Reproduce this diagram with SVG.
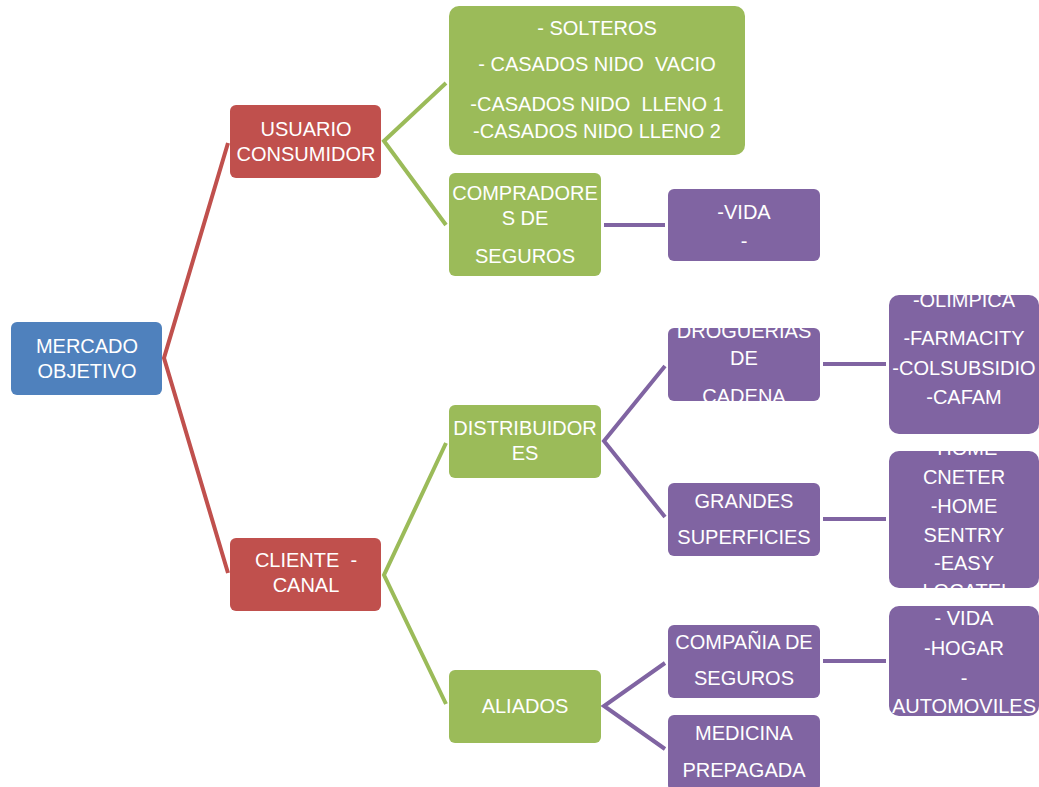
<svg xmlns="http://www.w3.org/2000/svg" width="1039" height="787" viewBox="0 0 1039 787">
<style>
.b{fill:#4F81BD}.r{fill:#C0504D}.g{fill:#9BBB59}.p{fill:#8064A2}
text{font-family:"Liberation Sans",Arial,sans-serif;font-size:20px;fill:#FFFFFF;text-anchor:middle;white-space:pre}
.cr{stroke:#C0504D;stroke-width:4;fill:none}
.cg{stroke:#9BBB59;stroke-width:4;fill:none}
.cp{stroke:#8064A2;stroke-width:4;fill:none}
</style>
<rect width="1039" height="787" fill="#FFFFFF"/>
<g id="connectors">
<polyline class="cr" points="228,143 164,358 228,573"/>
<polyline class="cg" points="446,83 384,141 446,225"/>
<polyline class="cg" points="446,443 384,575 446,704"/>
<line class="cp" x1="604" y1="225" x2="665" y2="225"/>
<polyline class="cp" points="665,366 604,441 665,517"/>
<line class="cp" x1="823" y1="364" x2="886" y2="364"/>
<line class="cp" x1="823" y1="519" x2="886" y2="519"/>
<polyline class="cp" points="665,663 604,706 665,749"/>
<line class="cp" x1="823" y1="661" x2="886" y2="661"/>
</g>
<g id="mercado">
<rect class="b" x="11" y="322" width="151" height="73" rx="6"/>
<text x="87" y="353">MERCADO</text><text x="87" y="378">OBJETIVO</text>
</g>
<g id="usuario">
<rect class="r" x="230" y="105" width="151" height="73" rx="6"/>
<text x="306" y="136">USUARIO</text><text x="306" y="161">CONSUMIDOR</text>
</g>
<g id="cliente">
<rect class="r" x="230" y="538" width="151" height="73" rx="6"/>
<text x="306" y="567" xml:space="preserve">CLIENTE  -</text><text x="306" y="592">CANAL</text>
</g>
<g id="segmentos">
<rect class="g" x="449" y="6" width="296" height="149" rx="10"/>
<text x="597" y="35">- SOLTEROS</text>
<text x="597" y="71" xml:space="preserve">- CASADOS NIDO  VACIO</text>
<text x="597" y="111" xml:space="preserve">-CASADOS NIDO  LLENO 1</text>
<text x="597" y="138">-CASADOS NIDO LLENO 2</text>
</g>
<g id="compradores">
<rect class="g" x="449" y="173" width="152" height="103" rx="6"/>
<text x="525" y="200">COMPRADORE</text><text x="525" y="225">S DE</text><text x="525" y="263">SEGUROS</text>
</g>
<g id="vida1">
<rect class="p" x="668" y="189" width="152" height="72" rx="6"/>
<text x="744" y="219">-VIDA</text><text x="744" y="248">-</text>
</g>
<g id="distribuidores">
<rect class="g" x="449" y="405" width="152" height="73" rx="6"/>
<text x="525" y="435">DISTRIBUIDOR</text><text x="525" y="460">ES</text>
</g>
<g id="aliados">
<rect class="g" x="449" y="670" width="152" height="73" rx="6"/>
<text x="525" y="713">ALIADOS</text>
</g>
<g id="droguerias">
<rect class="p" x="668" y="328" width="152" height="73" rx="6"/>
<text x="744" y="338">DROGUERIAS</text><text x="744" y="365">DE</text><text x="744" y="403">CADENA</text>
</g>
<g id="farmacias">
<rect class="p" x="889" y="295" width="150" height="139" rx="10"/>
<text x="964" y="307">-OLIMPICA</text><text x="964" y="345">-FARMACITY</text><text x="964" y="375">-COLSUBSIDIO</text><text x="964" y="404">-CAFAM</text>
</g>
<g id="grandes">
<rect class="p" x="668" y="483" width="152" height="73" rx="6"/>
<text x="744" y="508">GRANDES</text><text x="744" y="544">SUPERFICIES</text>
</g>
<g id="superficies">
<rect class="p" x="889" y="451" width="150" height="137" rx="10"/>
<text x="964" y="455">-HOME</text><text x="964" y="484">CNETER</text><text x="964" y="513">-HOME</text><text x="964" y="542">SENTRY</text><text x="964" y="570">-EASY</text><text x="964" y="598">-LOCATEL</text>
</g>
<g id="compania">
<rect class="p" x="668" y="625" width="152" height="73" rx="6"/>
<text x="744" y="649">COMPAÑIA DE</text><text x="744" y="685">SEGUROS</text>
</g>
<g id="medicina">
<rect class="p" x="668" y="715" width="152" height="76" rx="6"/>
<text x="744" y="740">MEDICINA</text><text x="744" y="777">PREPAGADA</text>
</g>
<g id="seguros">
<rect class="p" x="889" y="606" width="150" height="110" rx="10"/>
<text x="964" y="625">- VIDA</text><text x="964" y="655">-HOGAR</text><text x="964" y="685">-</text><text x="964" y="713">AUTOMOVILES</text>
</g>
</svg>
